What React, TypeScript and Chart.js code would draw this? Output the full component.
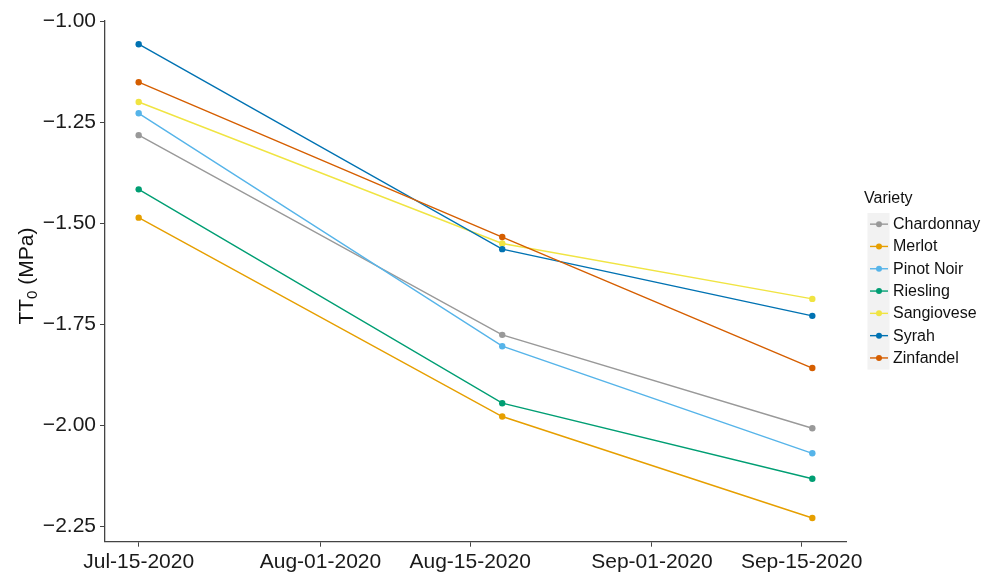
import React, { useEffect, useRef } from "react";
import { Chart, registerables } from "chart.js";

Chart.register(...registerables);

// ---- data ----
const sampleDates = ["2020-07-15", "2020-08-18", "2020-09-16"];
const varieties = ["Chardonnay", "Merlot", "Pinot Noir", "Riesling", "Sangiovese", "Syrah", "Zinfandel"];
const colors = ["#999999", "#E69F00", "#56B4E9", "#009E73", "#F0E442", "#0072B2", "#D55E00"];
const chardonnay = [-1.282, -1.776, -2.007];
const merlot = [-1.486, -1.978, -2.229];
const pinotNoir = [-1.228, -1.804, -2.069];
const riesling = [-1.416, -1.945, -2.132];
const sangiovese = [-1.2, -1.55, -1.687];
const syrah = [-1.057, -1.564, -1.729];
const zinfandel = [-1.151, -1.534, -1.858];
const seriesValues = [chardonnay, merlot, pinotNoir, riesling, sangiovese, syrah, zinfandel];

const xTickDates = ["2020-07-15", "2020-08-01", "2020-08-15", "2020-09-01", "2020-09-15"];
const xTickLabels = ["Jul-15-2020", "Aug-01-2020", "Aug-15-2020", "Sep-01-2020", "Sep-15-2020"];
const yTicks = [-1.0, -1.25, -1.5, -1.75, -2.0, -2.25];
const legendTitle = "Variety";

const FONT = "'Liberation Sans', Arial, Helvetica, sans-serif";
const dayOf = (s: string) => {
  const [y, m, d] = s.split("-").map(Number);
  return (Date.UTC(y, m - 1, d) - Date.UTC(2020, 6, 15)) / 86400000;
};

const xDays = sampleDates.map(dayOf);
const xTickDays = xTickDates.map(dayOf);

function expand(vals: number[]) {
  const mn = Math.min(...vals);
  const mx = Math.max(...vals);
  const pad = (mx - mn) * 0.05;
  return [mn - pad, mx + pad];
}

const overlayPlugin = {
  id: "overlay",
  afterDraw(chart: any) {
    const ctx = chart.ctx as CanvasRenderingContext2D;
    const area = chart.chartArea;
    // y-axis title with subscript
    ctx.save();
    const cy = (area.top + area.bottom) / 2 - 5;
    ctx.translate(33, cy);
    ctx.rotate(-Math.PI / 2);
    ctx.fillStyle = "#111";
    ctx.textBaseline = "alphabetic";
    ctx.textAlign = "left";
    const big = `21px ${FONT}`;
    const small = `15px ${FONT}`;
    ctx.font = big;
    const w1 = ctx.measureText("TT").width;
    const w3 = ctx.measureText(" (MPa)").width;
    ctx.font = small;
    const w2 = ctx.measureText("0").width;
    const total = w1 + w2 + w3;
    let x = -total / 2;
    ctx.font = big;
    ctx.fillText("TT", x, 0);
    x += w1;
    ctx.font = small;
    ctx.fillText("0", x, 4);
    x += w2;
    ctx.font = big;
    ctx.fillText(" (MPa)", x, 0);
    ctx.restore();

    // legend
    ctx.save();
    ctx.font = `16px ${FONT}`;
    ctx.fillStyle = "#111";
    ctx.textBaseline = "middle";
    ctx.textAlign = "left";
    ctx.fillText(legendTitle, 864, 199);
    const ds = chart.data.datasets;
    const top = 213;
    const step = 22.3;
    ctx.fillStyle = "#F2F2F2";
    ctx.fillRect(867.5, top, 22, step * ds.length + 0.5);
    ds.forEach((d: any, i: number) => {
      const y = top + step * i + step / 2;
      ctx.strokeStyle = d.borderColor;
      ctx.lineWidth = 1.4;
      ctx.beginPath();
      ctx.moveTo(870, y);
      ctx.lineTo(888, y);
      ctx.stroke();
      ctx.fillStyle = d.borderColor;
      ctx.beginPath();
      ctx.arc(879, y, 3, 0, Math.PI * 2);
      ctx.fill();
      ctx.fillStyle = "#111";
      ctx.fillText(d.label, 893, y + 0.5);
    });
    ctx.restore();
  },
};

export default function App() {
  const ref = useRef<HTMLCanvasElement | null>(null);
  useEffect(() => {
    if (!ref.current) return;
    const [xmin, xmax] = expand(xDays);
    const [ymin, ymax] = expand(seriesValues.flat());
    const chart = new Chart(ref.current, {
      type: "line",
      data: {
        datasets: varieties.map((name, i) => ({
          label: name,
          data: seriesValues[i].map((v, j) => ({ x: xDays[j], y: v })),
          borderColor: colors[i],
          backgroundColor: colors[i],
          pointBackgroundColor: colors[i],
          pointBorderWidth: 0,
          pointRadius: 3.2,
          borderWidth: 1.4,
          tension: 0,
          fill: false,
          order: varieties.length - i,
        })),
      },
      options: {
        responsive: false,
        animation: false,
        layout: { padding: { top: 20.5, right: 135, left: 0, bottom: 0 } },
        plugins: { legend: { display: false }, tooltip: { enabled: false } },
        scales: {
          x: {
            type: "linear",
            min: xmin,
            max: xmax,
            afterBuildTicks: (s: any) => {
              s.ticks = xTickDays.map((v) => ({ value: v }));
            },
            afterFit: (s: any) => {
              s.height = 30.3;
            },
            ticks: {
              autoSkip: false,
              maxRotation: 0,
              padding: 3,
              color: "#1a1a1a",
              font: { family: FONT, size: 21 },
              callback: (v: any) => {
                const idx = xTickDays.indexOf(Number(v));
                return idx >= 0 ? xTickLabels[idx] : "";
              },
            },
            grid: { display: true, drawOnChartArea: false, drawTicks: true, tickLength: 5, color: "#444", lineWidth: 1 },
            border: { display: true, color: "#444", width: 1.3 },
          },
          y: {
            type: "linear",
            min: ymin,
            max: ymax,
            afterBuildTicks: (s: any) => {
              s.ticks = yTicks.map((v) => ({ value: v }));
            },
            afterFit: (s: any) => {
              s.width = 105;
            },
            ticks: {
              autoSkip: false,
              padding: 4,
              color: "#1a1a1a",
              font: { family: FONT, size: 21 },
              callback: (v: any) => {
                const n = Number(v);
                return (n < 0 ? "\u2212" : "") + Math.abs(n).toFixed(2);
              },
            },
            grid: { display: true, drawOnChartArea: false, drawTicks: true, tickLength: 5, color: "#444", lineWidth: 1 },
            border: { display: true, color: "#444", width: 1.3 },
          },
        },
      },
      plugins: [overlayPlugin],
    } as any);
    return () => chart.destroy();
  }, []);
  return (
    <div style={{ position: "absolute", left: 0, top: 0, width: 981, height: 572, background: "#fff" }}>
      <canvas ref={ref} width={981} height={572} style={{ width: 981, height: 572, display: "block" }} />
    </div>
  );
}
